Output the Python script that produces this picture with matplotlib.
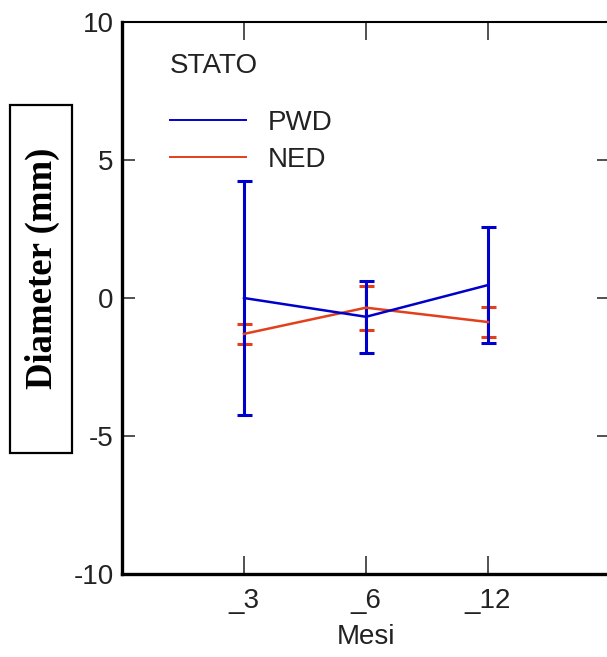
import matplotlib
matplotlib.use('Agg')
import matplotlib.pyplot as plt
from matplotlib.lines import Line2D
from matplotlib.patches import Rectangle

plt.rcParams['font.family'] = ['Liberation Sans', 'DejaVu Sans']

# data
months = ['_3', '_6', '_12']
pwd_mean = [0.0, -0.68, 0.47]
pwd_err = [4.25, 1.3, 2.1]
ned_mean = [-1.3, -0.35, -0.87]
ned_err = [0.36, 0.8, 0.54]

blue = '#0000cc'
red = '#e2401c'

fig = plt.figure(figsize=(6.07, 6.57), dpi=100)
ax = fig.add_axes([0.201, 0.1263, 0.804, 0.8402])

x = [1, 2, 3]
ax.errorbar(x, ned_mean, yerr=ned_err, color=red, lw=1.8, elinewidth=1.6,
            capsize=5.4, capthick=2.2)
ax.errorbar(x, pwd_mean, yerr=pwd_err, color=blue, lw=1.8, elinewidth=2.2,
            capsize=5.4, capthick=2.2)

ax.set_xlim(0, 4)
ax.set_ylim(-10, 10)
ax.set_xticks(x)
ax.set_xticklabels(months)
ax.set_yticks([-10, -5, 0, 5, 10])
ax.set_yticklabels(['-10', '-5', '0', '5', '10'])
ax.tick_params(axis='both', direction='in', top=True, right=True,
               labelsize=20, colors='#222222', width=1.1)
ax.tick_params(axis='x', length=13, pad=10)
ax.tick_params(axis='y', length=9.4, pad=6)
ax.set_xlabel('Mesi', fontsize=20, color='#222222', labelpad=7)

ax.spines['left'].set_linewidth(2.4)
ax.spines['bottom'].set_linewidth(2.4)
ax.spines['top'].set_linewidth(1.5)
ax.spines['right'].set_visible(False)

# legend: title as plain text, entries via legend
ax.text(0.098, 0.920, 'STATO', transform=ax.transAxes, fontsize=20,
        color='#222222', ha='left', va='center')
handles = [Line2D([], [], color=blue, lw=1.4), Line2D([], [], color=red, lw=1.4)]
leg = ax.legend(handles, ['PWD', 'NED'], frameon=False,
                loc='upper left', bbox_to_anchor=(0.098, 0.8415), fontsize=20,
                handlelength=2.73, handletextpad=0.79, labelspacing=0.4,
                borderpad=0, borderaxespad=0)
for t in leg.get_texts():
    t.set_color('#222222')

# boxed y label
fig.patches.append(Rectangle((10 / 607, 1 - 453 / 657), 62 / 607, 348 / 657,
                             transform=fig.transFigure, fill=False,
                             edgecolor='black', lw=1.6))
fig.text(42 / 607, 1 - 268 / 657, 'Diameter (mm)', rotation=90,
         ha='center', va='center', fontsize=26.5, fontweight='bold',
         family='Liberation Serif')

fig.savefig('out.png', dpi=100)
